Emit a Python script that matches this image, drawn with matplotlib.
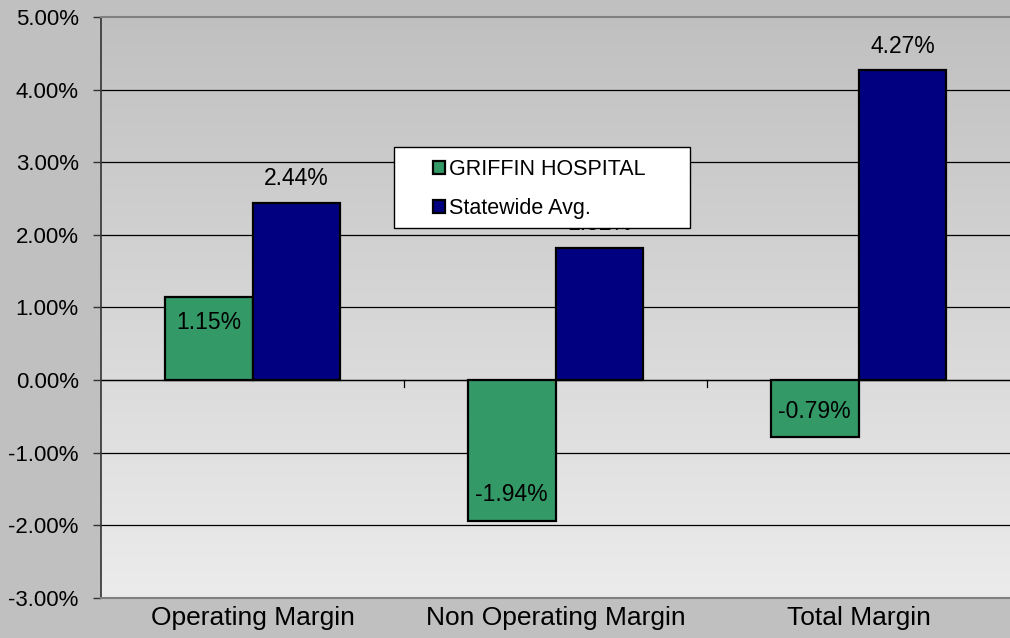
import numpy as np
import matplotlib.pyplot as plt
from matplotlib.colors import LinearSegmentedColormap
from matplotlib.patches import Rectangle

categories = ["Operating Margin", "Non Operating Margin", "Total Margin"]
griffin = [1.15, -1.94, -0.79]
statewide = [2.44, 1.82, 4.27]
series_names = ["GRIFFIN HOSPITAL", "Statewide Avg."]
yticks = [-3, -2, -1, 0, 1, 2, 3, 4, 5]

plt.rcParams['font.family'] = ['Liberation Sans', 'DejaVu Sans']

fig = plt.figure(figsize=(10.1, 6.38), dpi=100, facecolor="#c0c0c0")
ax = fig.add_axes([0.1, 0.0627, 0.9, 0.9107])

# gradient background of the plot area
cmap = LinearSegmentedColormap.from_list("bg", ["#ececec", "#c0c0c0"])
grad = np.linspace(0, 1, 256).reshape(-1, 1)
ax.imshow(grad, extent=[-0.5, 2.5, -3, 5], origin="lower", aspect="auto",
          cmap=cmap, zorder=0)

x = np.arange(len(categories))
w = 0.29
b1 = ax.bar(x - w / 2, griffin, w, color="#339966", edgecolor="black",
            linewidth=1.6, label=series_names[0], zorder=3)
b2 = ax.bar(x + w / 2, statewide, w, color="#000080", edgecolor="black",
            linewidth=1.6, label=series_names[1], zorder=3)

for rect, v in zip(b1, griffin):
    cx = rect.get_x() + rect.get_width() / 2
    off = -0.36 if v > 0 else 0.36
    ax.text(cx, v + off, f"{v:.2f}%", ha="center", va="center", fontsize=16.5, zorder=4)
for rect, v in zip(b2, statewide):
    cx = rect.get_x() + rect.get_width() / 2
    ax.text(cx, v + 0.33, f"{v:.2f}%", ha="center", va="center", fontsize=16.5, zorder=4)

ax.set_xlim(-0.5, 2.5)
ax.set_ylim(-3, 5)
ax.set_yticks(yticks)
ax.set_yticklabels([f"{t:.2f}%" for t in yticks], fontsize=16)
ax.set_xticks(x)
ax.set_xticklabels(categories, fontsize=19)
ax.tick_params(axis="x", length=0, pad=6)
ax.tick_params(axis="y", length=6, width=1, pad=10, color="#333333")

for t in yticks[1:-1]:
    ax.axhline(t, color="black", linewidth=0.9, zorder=1)
ax.axhline(0, color="black", linewidth=0.9, zorder=2)
# category separator ticks at the zero line
for s in [0.5, 1.5]:
    ax.plot([s, s], [0, -0.09], color="black", linewidth=0.9, zorder=2)

for side in ["top", "bottom"]:
    ax.spines[side].set_color("#808080")
    ax.spines[side].set_linewidth(1.5)
ax.spines["right"].set_visible(False)
ax.spines["left"].set_color("#333333")
ax.spines["left"].set_linewidth(1.2)

# legend box
ax.add_patch(Rectangle((0.3223, 0.637), 0.3257, 0.139, transform=ax.transAxes,
                       facecolor="white", edgecolor="black", linewidth=1.0,
                       zorder=5))
leg = ax.legend(loc="upper left", bbox_to_anchor=(0.365, 0.756), fontsize=15.5,
                frameon=False, handlelength=0.55, handleheight=0.55,
                handletextpad=0.2, borderpad=0, labelspacing=0.85,
                borderaxespad=0)
leg.set_zorder(6)

fig.savefig("out.png", dpi=100, facecolor=fig.get_facecolor())
